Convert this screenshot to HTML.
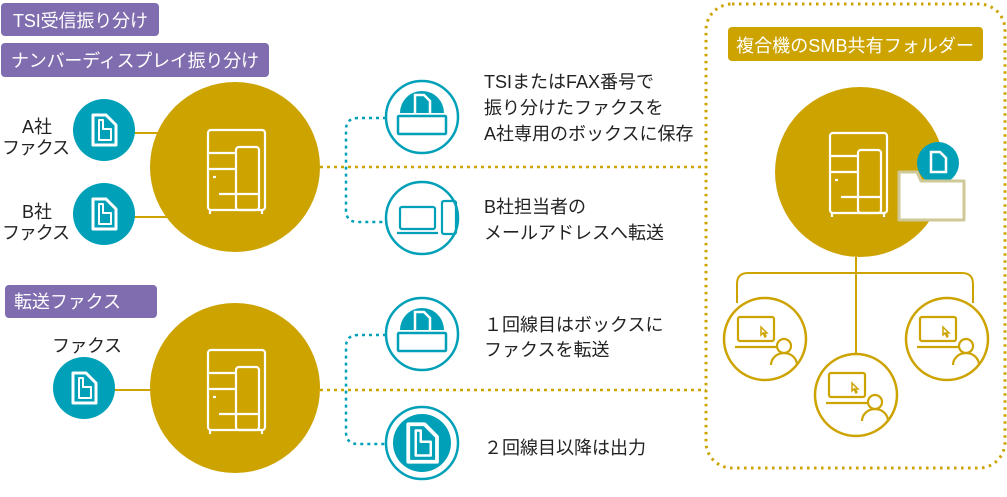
<!DOCTYPE html>
<html><head><meta charset="utf-8"><style>
body{margin:0;background:#fff;}
svg{display:block;}
text{font-family:"Liberation Sans","Noto Sans CJK JP",sans-serif;}
</style></head><body>
<svg width="1007" height="497" viewBox="0 0 1007 497" xmlns="http://www.w3.org/2000/svg">
<defs>
<g id="mfp" fill="none" stroke="#fff" stroke-width="2.2" stroke-linejoin="round">
  <rect x="-27" y="-40" width="57" height="80" rx="3"/>
  <line x1="-27" y1="-17" x2="1" y2="-17"/>
  <line x1="-27" y1="-1" x2="1" y2="-1"/>
  <rect x="1" y="-23" width="23" height="63" rx="3"/>
  <line x1="-16" y1="24" x2="24" y2="24"/>
  <line x1="-22" y1="7" x2="-19" y2="7"/>
  <line x1="-25" y1="40" x2="-25" y2="44"/>
  <line x1="27" y1="40" x2="27" y2="44"/>
</g>
<g id="doc" fill="none" stroke="#fff" stroke-width="3" stroke-linejoin="round">
  <path d="M-11,-15 H2 L12,-5 V15 H-11 Z"/>
  <path d="M-5,-10 H-1 V-1 H7 V10 H-5 Z" stroke-width="2"/>
</g>
<g id="box">
  <circle cx="0" cy="0" r="36" fill="#fff" stroke="#00a0b8" stroke-width="2.5"/>
  <path d="M-22,2 A22,22 0 1 1 22,2 Z" fill="#00a0b8" transform="translate(0,-6)"/>
  <path d="M-7,-22 H2 L8,-16 V0 H-7 Z" fill="none" stroke="#fff" stroke-width="2.5"/>
  <rect x="-24" y="-1" width="48" height="18" fill="#fff" stroke="#00a0b8" stroke-width="2.5" rx="1"/>
</g>
<g id="pc">
  <circle cx="0" cy="0" r="41" fill="#fff" stroke="#cda300" stroke-width="2.5"/>
  <g fill="none" stroke="#cda300" stroke-width="2.2">
    <rect x="-27" y="-22" width="36" height="24" rx="2"/>
    <line x1="-30" y1="8" x2="15" y2="8"/>
    <path d="M-4,-12 l0,8 l2,-2 l2,4 l1,-1 l-2,-3 l3,0 z" stroke-width="1.5"/>
    <circle cx="19" cy="7" r="7" fill="#fff"/>
    <path d="M6,26 A13,12 0 0 1 32,26"/>
  </g>
</g>
</defs>

<rect x="1" y="3" width="158" height="33" rx="4" fill="#806daf"/>
<text x="13" y="27" font-size="18" fill="#fff" textLength="135">TSI受信振り分け</text>
<rect x="1" y="43" width="268" height="34" rx="4" fill="#806daf"/>
<text x="11" y="67" font-size="18" fill="#fff" textLength="248">ナンバーディスプレイ振り分け</text>
<rect x="5" y="285" width="152" height="33" rx="4" fill="#806daf"/>
<text x="14" y="308" font-size="18" fill="#fff" textLength="107">転送ファクス</text>

<rect x="706" y="4" width="299" height="464" rx="26" fill="none" stroke="#cda300" stroke-width="3" stroke-dasharray="2.5 4.5"/>
<rect x="728" y="27" width="255" height="34" rx="4" fill="#cda300"/>
<text x="736" y="52" font-size="18" fill="#fff" textLength="238">複合機のSMB共有フォルダー</text>

<line x1="134" y1="133" x2="170" y2="133" stroke="#cda300" stroke-width="2"/>
<line x1="134" y1="217" x2="170" y2="217" stroke="#cda300" stroke-width="2"/>
<line x1="114" y1="390" x2="170" y2="390" stroke="#cda300" stroke-width="2"/>
<line x1="320" y1="167" x2="706" y2="167" stroke="#cda300" stroke-width="2.5" stroke-dasharray="3 4"/>
<line x1="320" y1="390" x2="706" y2="390" stroke="#cda300" stroke-width="2.5" stroke-dasharray="3 4"/>
<path d="M386,118 H358 Q346,118 346,130 V210 Q346,222 358,222 H386" fill="none" stroke="#00a0b8" stroke-width="2.5" stroke-dasharray="3 4"/>
<path d="M386,335 H358 Q346,335 346,347 V432 Q346,444 358,444 H386" fill="none" stroke="#00a0b8" stroke-width="2.5" stroke-dasharray="3 4"/>

<text x="22" y="133" font-size="18" fill="#222">A社</text>
<text x="2" y="154" font-size="18" fill="#222" textLength="68">ファクス</text>
<text x="22" y="218" font-size="18" fill="#222">B社</text>
<text x="2" y="239" font-size="18" fill="#222" textLength="68">ファクス</text>
<text x="52" y="352" font-size="18" fill="#222" textLength="70">ファクス</text>

<circle cx="104" cy="130" r="31" fill="#00a0b8"/><use href="#doc" x="104" y="130"/>
<circle cx="104" cy="214" r="31" fill="#00a0b8"/><use href="#doc" x="104" y="214"/>
<circle cx="84" cy="388" r="31" fill="#00a0b8"/><use href="#doc" x="84" y="388"/>

<circle cx="235" cy="167" r="85" fill="#cda300"/><use href="#mfp" x="235" y="170"/>
<circle cx="235" cy="388" r="85" fill="#cda300"/><use href="#mfp" x="235" y="390"/>

<use href="#box" x="422" y="117"/>
<circle cx="422" cy="218" r="36" fill="#fff" stroke="#00a0b8" stroke-width="2.5"/>
<g fill="none" stroke="#00a0b8" stroke-width="2.2">
  <rect x="400" y="207" width="35" height="22" rx="2"/>
  <line x1="397" y1="233" x2="438" y2="233"/>
  <rect x="442" y="201" width="14" height="33" rx="2"/>
</g>
<use href="#box" x="422" y="334"/>
<circle cx="422" cy="443" r="36" fill="#fff" stroke="#00a0b8" stroke-width="2.5"/>
<circle cx="422" cy="443" r="29" fill="#00a0b8"/>
<g transform="translate(422,443) scale(1.25)"><use href="#doc"/></g>

<g font-size="18" fill="#222">
<text x="484" y="88">TSIまたはFAX番号で</text>
<text x="484" y="114">振り分けたファクスを</text>
<text x="484" y="140">A社専用のボックスに保存</text>
<text x="484" y="213">B社担当者の</text>
<text x="484" y="239">メールアドレスへ転送</text>
<text x="484" y="331">１回線目はボックスに</text>
<text x="484" y="356">ファクスを転送</text>
<text x="484" y="454">２回線目以降は出力</text>
</g>

<circle cx="860" cy="172" r="85" fill="#cda300"/><use href="#mfp" x="857" y="173"/>
<circle cx="938" cy="163" r="21" fill="#00a0b8"/>
<path d="M931,152 H940 L946,158 V172 H931 Z" fill="none" stroke="#fff" stroke-width="2.5"/>
<path d="M899,172 H917 L921,181 H964 V220 H899 Z" fill="#fff" stroke="#cfc99a" stroke-width="3" stroke-linejoin="round"/>
<g fill="none" stroke="#cda300" stroke-width="2">
  <line x1="856" y1="257" x2="856" y2="355"/>
  <path d="M737,303 V284 Q737,273 748,273 H962 Q973,273 973,284 V303"/>
</g>
<use href="#pc" x="765" y="339"/>
<use href="#pc" x="947" y="339"/>
<use href="#pc" x="856" y="395"/>
</svg>
</body></html>
